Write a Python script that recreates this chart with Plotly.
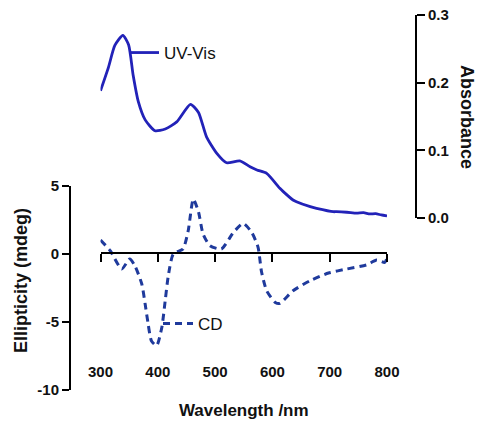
import plotly.graph_objects as go

# UV-Vis absorbance spectrum (right axis)
uv_wl = [300, 314, 325, 339, 349, 357, 366, 378, 395, 413, 433, 457, 471, 485, 503, 520,
         543, 561, 573, 590, 613, 619, 636, 642, 666, 677, 706, 712, 730, 747, 759, 770,
         780, 790, 800]
uv_abs = [0.188, 0.223, 0.255, 0.270, 0.256, 0.211, 0.172, 0.145, 0.129, 0.1315, 0.142,
          0.168, 0.156, 0.120, 0.0956, 0.0817, 0.0845, 0.0758, 0.071, 0.066, 0.0439, 0.039,
          0.0266, 0.024, 0.0167, 0.0143, 0.0093, 0.0093, 0.0085, 0.0072, 0.0078, 0.006,
          0.0065, 0.0045, 0.003]

# CD spectrum (left axis)
cd_wl = [300, 317, 337, 351, 360, 372, 378, 383, 389, 398, 407, 413, 418, 427, 444, 453,
         462, 471, 479, 491, 511, 532, 549, 564, 575, 581, 590, 605, 613, 636, 666, 698,
         730, 765, 782, 796, 800]
cd_mdeg = [1.03, 0.24, -1.10, -0.37, -0.86, -2.2, -3.7, -5.1, -6.4, -6.74, -5.4, -3.4,
           -1.7, 0.0, 0.37, 1.7, 4.04, 3.1, 1.47, 0.61, 0.37, 1.59, 2.25, 1.59, 0.49,
           -1.3, -2.7, -3.56, -3.63, -2.7, -1.96, -1.40, -1.10, -0.79, -0.44, -0.62, -0.29]

x_ticks = [300, 400, 500, 600, 700, 800]
cd_ticks = [-10, -5, 0, 5]
cd_ticktext = ["-10", "-5", "0", "5"]
abs_ticks = [0.0, 0.1, 0.2, 0.3]

W, H = 482, 426
FONT = "Liberation Sans, Arial, sans-serif"

def px_x(p):
    return p / W

def px_y(p):
    return 1 - p / H

fig = go.Figure()
fig.add_trace(go.Scatter(
    x=cd_wl, y=cd_mdeg, mode="lines", name="CD", xaxis="x", yaxis="y",
    line=dict(color="#1f3a9c", width=3, dash="7px,5px", shape="spline", smoothing=0.6),
    legend="legend2", showlegend=True))
fig.add_trace(go.Scatter(
    x=uv_wl, y=uv_abs, mode="lines", name="UV-Vis", xaxis="x", yaxis="y2",
    line=dict(color="#2222b8", width=2.8, shape="spline", smoothing=0.6),
    legend="legend", showlegend=True))

tickfont = dict(family=FONT, size=15, color="#111", weight="bold")

fig.update_layout(
    width=W, height=H, autosize=False,
    margin=dict(l=0, r=0, t=0, b=0),
    showlegend=True,
    paper_bgcolor="white", plot_bgcolor="rgba(0,0,0,0)",
    xaxis=dict(domain=[px_x(100.5), px_x(387)], range=[300, 800],
               anchor="free", position=px_y(253.3),
               showline=True, linecolor="black", linewidth=2,
               ticks="outside", ticklen=8, tickwidth=2, tickcolor="black",
               tickvals=x_ticks, tickfont=tickfont, ticklabelstandoff=97,
               showgrid=False, zeroline=False, automargin=False,
               title=dict(text="Wavelength /nm", standoff=24,
                          font=dict(family=FONT, size=17, color="#111", weight="bold"))),
    yaxis=dict(domain=[px_y(390), px_y(186)], range=[-10, 5],
               anchor="free", position=px_x(70), side="left",
               showline=True, linecolor="black", linewidth=2,
               ticks="outside", ticklen=7, tickwidth=2, tickcolor="black",
               tickvals=cd_ticks, ticktext=cd_ticktext, tickfont=tickfont,
               showgrid=False, zeroline=False, automargin=False),
    yaxis2=dict(domain=[px_y(218), px_y(15)], range=[0, 0.3],
                anchor="free", position=px_x(416), side="right",
                showline=True, linecolor="black", linewidth=2,
                ticks="outside", ticklen=8, tickwidth=2, tickcolor="black",
                tickvals=abs_ticks, tickformat=".1f", tickfont=tickfont,
                showgrid=False, zeroline=False, automargin=False),
    legend=dict(x=px_x(124), y=px_y(53), xanchor="left", yanchor="middle",
                bgcolor="rgba(0,0,0,0)", borderwidth=0,
                font=dict(family=FONT, size=17, color="#111")),
    legend2=dict(x=px_x(158), y=px_y(324), xanchor="left", yanchor="middle",
                 bgcolor="rgba(0,0,0,0)", borderwidth=0,
                 font=dict(family=FONT, size=17, color="#111")),
    annotations=[
        dict(text="Ellipticity (mdeg)", xref="paper", yref="paper",
             x=px_x(21), y=px_y(281), textangle=-90, showarrow=False,
             xanchor="center", yanchor="middle",
             font=dict(family=FONT, size=18, color="#111", weight="bold")),
        dict(text="Absorbance", xref="paper", yref="paper",
             x=px_x(467), y=px_y(117), textangle=90, showarrow=False,
             xanchor="center", yanchor="middle",
             font=dict(family=FONT, size=18, color="#111", weight="bold")),
    ],
)

fig.write_html("out.html")
